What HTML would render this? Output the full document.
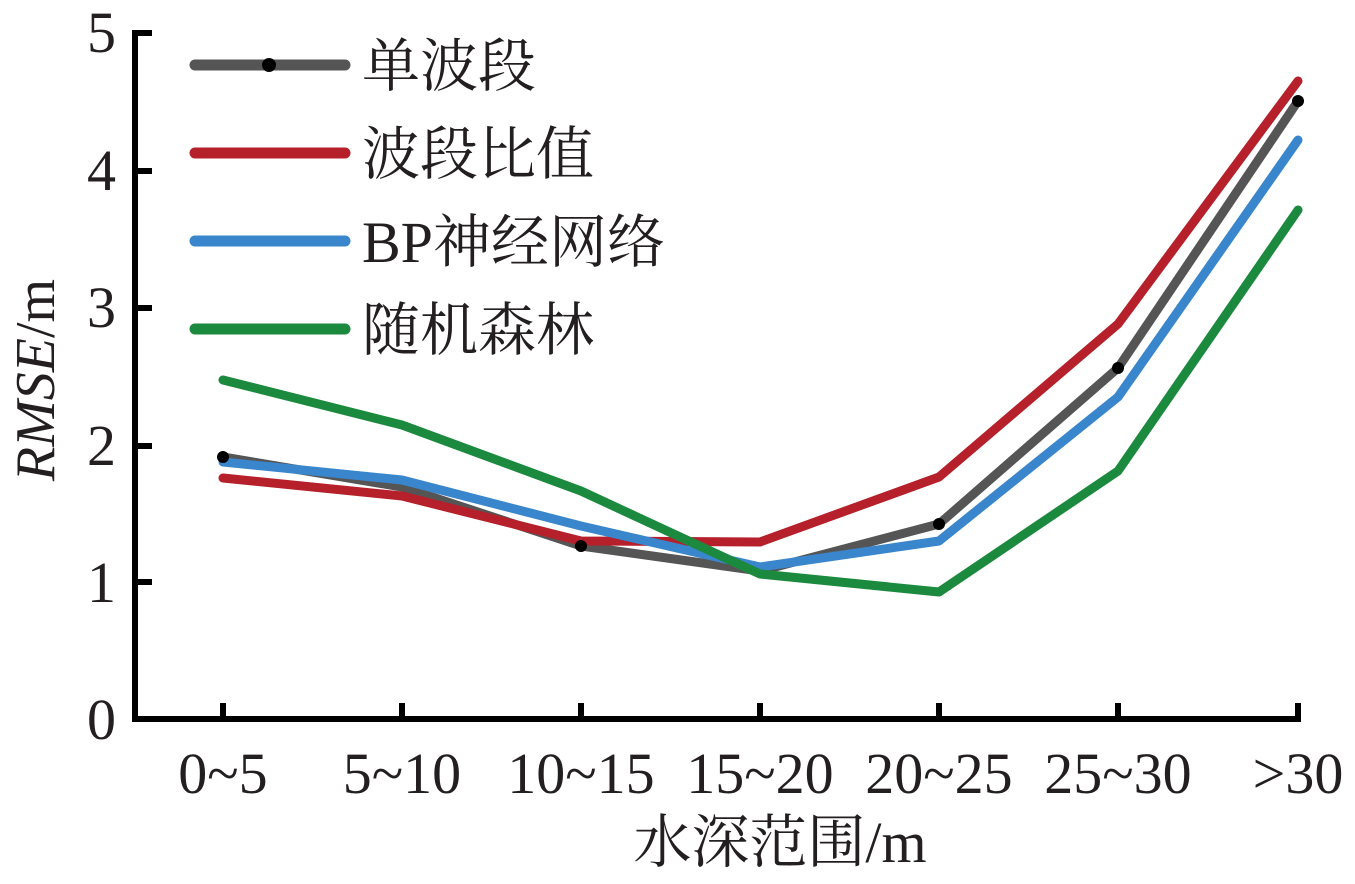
<!DOCTYPE html>
<html><head><meta charset="utf-8"><style>
html,body{margin:0;padding:0;background:#fff;}
text{font-family:"Liberation Serif","Noto Serif CJK SC",serif;fill:#231f20;}
</style></head><body>
<svg width="1355" height="879" viewBox="0 0 1355 879" xmlns="http://www.w3.org/2000/svg">
<g stroke="#000" stroke-width="6" fill="none">
<path d="M135 30 V719 H1301"/>
<path d="M135 33 H152 M135 171 H152 M135 308 H152 M135 446 H152 M135 582 H152"/>
<path d="M223 719 V703 M402 719 V703 M581 719 V703 M760 719 V703 M939 719 V703 M1118 719 V703 M1298 719 V703"/>
</g>
<g font-size="58" text-anchor="end">
<text x="116" y="52">5</text><text x="116" y="190">4</text><text x="116" y="327">3</text>
<text x="116" y="465">2</text><text x="116" y="602">1</text><text x="116" y="739">0</text>
</g>
<g font-size="58" text-anchor="middle">
<text x="223" y="793">0~5</text><text x="402" y="793">5~10</text><text x="581" y="793">10~15</text>
<text x="760" y="793">15~20</text><text x="939" y="793">20~25</text><text x="1118" y="793">25~30</text>
<text x="1298" y="793">&gt;30</text>
</g>
<text x="780" y="862" font-size="58" text-anchor="middle">水深范围/m</text>
<text transform="translate(54,380) rotate(-90)" font-size="56" text-anchor="middle"><tspan font-style="italic">RMSE</tspan>/m</text>
<g fill="none" stroke-width="9" stroke-linejoin="round" stroke-linecap="round">
<polyline stroke="#555555" points="223,457 402,487 581,546 760,571 939,524 1118,368 1298,101"/>
<polyline stroke="#b5202a" points="223,478 402,496 581,541 760,542 939,477 1118,324 1298,81"/>
<polyline stroke="#3a86cc" points="223,462 402,480 581,526 760,567 939,541 1118,397 1298,140"/>
<polyline stroke="#1b8a3e" points="223,380 402,425 581,491 760,574 939,592 1118,471 1298,210"/>
</g>
<g fill="#000"><circle cx="223" cy="457" r="6"/><circle cx="581" cy="546" r="6"/><circle cx="939" cy="524" r="6"/><circle cx="1118" cy="368" r="6"/><circle cx="1298" cy="101" r="6"/></g>
<g stroke-width="11" stroke-linecap="round">
<line x1="195" y1="65" x2="345" y2="65" stroke="#555555"/>
<line x1="195" y1="153" x2="345" y2="153" stroke="#b5202a"/>
<line x1="195" y1="241" x2="345" y2="241" stroke="#3a86cc"/>
<line x1="195" y1="329" x2="345" y2="329" stroke="#1b8a3e"/>
</g>
<circle cx="269" cy="65" r="7" fill="#000"/>
<g font-size="58">
<text x="362" y="86">单波段</text>
<text x="362" y="174">波段比值</text>
<text x="362" y="262">BP神经网络</text>
<text x="362" y="350">随机森林</text>
</g>
</svg>
</body></html>
